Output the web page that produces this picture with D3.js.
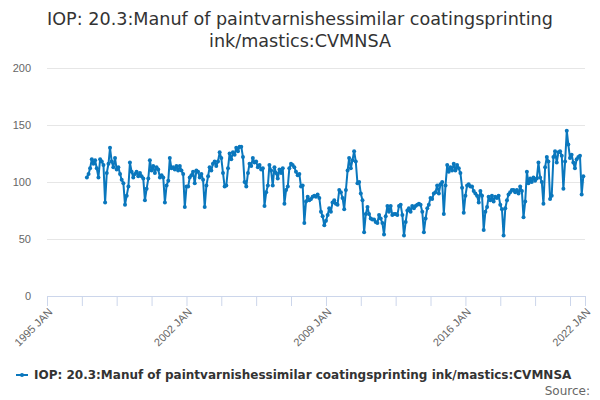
<!DOCTYPE html>
<html><head><meta charset="utf-8">
<script src="https://cdn.jsdelivr.net/npm/d3@7"></script>
<style>body{margin:0;background:#fff} svg{display:block;font-family:"DejaVu Sans",sans-serif}</style>
</head><body><svg id="chart" width="600" height="400"></svg>
<script>
const titleLines = ["IOP: 20.3:Manuf of paintvarnishessimilar coatingsprinting", "ink/mastics:CVMNSA"];
const seriesName = "IOP: 20.3:Manuf of paintvarnishessimilar coatingsprinting ink/mastics:CVMNSA";
const sourceText = "Source:";
const startYear = 1997;
// monthly values, Jan 1997 .. Dec 2021
const values = [
  104,107,112,120,116,119,112,104,120,118,115,82,   // 1997
  108,116,130,118,113,121,111,113,107,102,99,80,    // 1998
  88,96,117,109,104,107,109,105,108,105,103,84,     // 1999
  94,103,119,110,114,108,113,111,104,106,104,82,    // 2000
  97,101,121,112,113,111,114,110,114,110,107,78,    // 2001
  96,96,104,106,109,99,110,109,104,107,102,78,      // 2002
  97,105,113,110,116,118,114,118,126,121,108,96,    // 2003
  97,112,125,120,126,124,130,127,131,131,122,100,   // 2004
  96,108,116,114,121,117,118,113,115,111,112,79,    // 2005
  91,97,115,110,97,113,108,103,111,108,112,81,      // 2006
  93,96,112,116,115,113,109,106,107,96,97,64,       // 2007
  83,87,84,85,87,88,87,89,86,74,70,62,              // 2008
  66,71,77,74,82,84,81,80,93,91,86,76,              // 2009
  93,110,121,112,119,127,118,99,100,90,84,56,       // 2010
  72,78,72,68,67,67,65,64,71,68,64,54,              // 2011
  70,79,74,79,71,72,72,71,79,80,71,53,              // 2012
  65,75,77,74,79,77,79,80,81,80,74,56,              // 2013
  68,77,80,86,85,90,91,97,90,98,100,72,             // 2014
  97,115,109,113,110,116,110,115,112,108,95,73,     // 2015
  88,97,98,96,96,92,90,88,82,92,88,58,              // 2016
  74,78,87,84,88,83,87,86,88,80,76,53,              // 2017
  77,84,89,91,93,93,91,93,90,96,92,69,              // 2018
  83,109,99,103,100,104,101,103,117,104,100,81,     // 2019
  113,122,118,85,88,122,127,117,126,127,123,94,     // 2020
  118,145,133,121,124,117,112,120,122,123,89,105    // 2021
];
const yTicks = [0, 50, 100, 150, 200];
const xDomain = ["1995-01", "2022-01"];
const xTickStepMonths = 21;
const xLabelled = ["1995-01", "2002-01", "2009-01", "2016-01", "2022-01"];
const monthNames = ["JAN","FEB","MAR","APR","MAY","JUN","JUL","AUG","SEP","OCT","NOV","DEC"];

(function () {
const parse = d3.timeParse("%Y-%m");
const data = values.map((v, i) => ({date: new Date(startYear, i, 1), value: v}));

const svg = d3.select("#chart");
const pLeft = 47, pRight = 585, pTop = 68, pBottom = 296;
const color = "#0a77bd";

const x = d3.scaleTime().domain(xDomain.map(parse)).range([pLeft, pRight]);
const y = d3.scaleLinear().domain([0, 200]).range([pBottom, pTop]);

// title
svg.append("g").selectAll("text").data(titleLines).join("text")
  .attr("x", 300).attr("y", (d, i) => 25 + i * 22)
  .attr("text-anchor", "middle").attr("fill", "#333").style("font-size", "17.6px")
  .text(d => d);

// y grid + labels
const gy = svg.append("g").attr("transform", `translate(${pLeft},0)`)
  .call(d3.axisLeft(y).tickValues(yTicks).tickSize(-(pRight - pLeft)).tickPadding(16));
gy.select(".domain").remove();
gy.selectAll(".tick line").attr("stroke", "#e6e6e6");
gy.selectAll(".tick text").attr("fill", "#666").style("font-size", "11px");

// x axis
const start = parse(xDomain[0]), end = parse(xDomain[1]);
const tickDates = [];
for (let d = start; d < end; d = d3.timeMonth.offset(d, xTickStepMonths)) tickDates.push(d);
tickDates.push(end);
const labelSet = new Set(xLabelled);
const fmtKey = d3.timeFormat("%Y-%m");
const gx = svg.append("g").attr("transform", `translate(0,${pBottom})`)
  .call(d3.axisBottom(x).tickValues(tickDates).tickSize(10)
    .tickFormat(d => labelSet.has(fmtKey(d)) ? `${d.getFullYear()} ${monthNames[d.getMonth()]}` : ""));
gx.select(".domain").attr("stroke", "#ccd6eb");
gx.selectAll(".tick line").attr("stroke", "#ccd6eb");
gx.selectAll(".tick text")
  .attr("x", 0).attr("y", 0).attr("dy", "0.35em")
  .attr("transform", "translate(3,14) rotate(-45)")
  .attr("text-anchor", "end").attr("fill", "#666").style("font-size", "11px");

// series
const line = d3.line().x(d => x(d.date)).y(d => y(d.value));
svg.append("path").datum(data).attr("d", line)
  .attr("fill", "none").attr("stroke", color).attr("stroke-width", 2).attr("stroke-linejoin", "round");
svg.append("g").selectAll("circle").data(data).join("circle")
  .attr("cx", d => x(d.date)).attr("cy", d => y(d.value)).attr("r", 2).attr("fill", color);

// legend
const lg = svg.append("g");
lg.append("line").attr("x1", 16).attr("x2", 28).attr("y1", 375).attr("y2", 375)
  .attr("stroke", color).attr("stroke-width", 2);
lg.append("circle").attr("cx", 22).attr("cy", 375).attr("r", 2).attr("fill", color);
lg.append("text").attr("x", 34).attr("y", 379).attr("fill", "#333")
  .style("font-size", "12px").style("font-weight", "bold").text(seriesName);

svg.append("text").attr("x", 590).attr("y", 395).attr("text-anchor", "end")
  .attr("fill", "#666").style("font-size", "12px").text(sourceText);
})();
</script></body></html>
